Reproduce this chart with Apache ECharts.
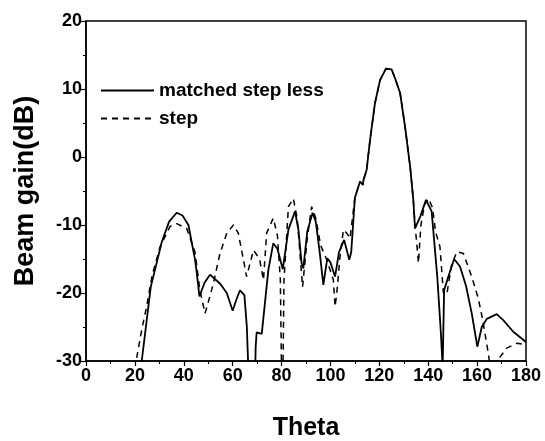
<!DOCTYPE html>
<html>
<head>
<meta charset="utf-8">
<script src="https://cdn.jsdelivr.net/npm/echarts@6/dist/echarts.min.js"></script>
<style>
  html, body { margin: 0; padding: 0; background: #fff; }
  #chart { width: 545px; height: 441px; }
</style>
</head>
<body>
<div id="chart"></div>
<script>
// axis ticks
let xTicks = [0, 20, 40, 60, 80, 100, 120, 140, 160, 180];
let yTicks = [-30, -20, -10, 0, 10, 20];

// series names
let seriesNames = ['matched step less', 'step'];

// matched step less [theta, dB]
let matched = [
  [22, -36], [22.8, -30], [26.5, -19.1], [31, -12.5], [34, -9.5], [37.1, -8.2], [39.5, -8.6],
  [41.9, -10], [44.6, -15.1], [45.3, -17], [46.4, -20.5], [48.5, -18.5], [50.7, -17.3],
  [54.8, -18.6], [57.6, -20], [60, -22.6], [61.5, -21], [63, -19.6], [64.8, -20.3],
  [65.8, -25], [67.3, -40], [68.8, -40], [69.4, -28], [69.8, -25.8], [71.9, -26],
  [74.6, -16.6], [76.6, -12.7], [78.3, -13.5], [80.5, -16.5], [82.8, -10.7], [85.5, -8.0],
  [86.9, -10.7], [88.2, -15.6], [88.9, -16.4], [90.5, -11], [92.7, -8.2], [94, -9.5],
  [95.6, -14], [97.1, -18.8], [98.7, -14.9], [100, -15.5], [101.9, -17.6], [103.5, -14],
  [105.6, -12.2], [107.7, -15.1], [108.5, -14], [110, -6], [112.1, -3.6], [113.3, -4.1],
  [113.5, -3.4], [114.8, -1.9], [116.2, 2.5], [118.2, 7.9], [120.3, 11.3], [122.7, 13],
  [125, 12.9], [126.5, 11.5], [128.5, 9.4], [130.5, 4.5], [132.6, -1.4], [133.9, -6.3],
  [134.6, -10.5], [136.7, -8.8], [139.1, -6.3], [141.4, -8], [143.7, -17.6], [145.2, -26],
  [145.9, -31], [146.5, -19.6], [148.2, -17.6], [150.6, -15], [153, -16.1], [155.5, -19],
  [157.8, -23], [160.1, -27.9], [161.9, -25], [164, -23.8], [168, -23.1], [170.7, -24],
  [174.8, -25.7], [180, -27.2]
];

// step [theta, dB]
let step = [
  [19.5, -36], [20.5, -30], [22.8, -25.4], [24.8, -22], [27, -17.5], [30.3, -13.2],
  [34.4, -10.2], [37.1, -9.8], [41.2, -10.5], [44.6, -14], [46.6, -19.6], [48.7, -23],
  [50.7, -20.5], [52.1, -18.6], [54.8, -14.2], [57.6, -11.2], [60.3, -10], [62.3, -11.2],
  [64.4, -15.1], [65.7, -17.6], [68.5, -13.7], [71, -15], [72.6, -18.1], [73.9, -11.2],
  [76.6, -9], [78.3, -11.5], [79.5, -18], [80.3, -40], [80.6, -40], [81, -18.1],
  [82.8, -7.3], [84.8, -6.1], [86.4, -9], [88.6, -19.1], [90.5, -12], [92.3, -7.3],
  [94, -9], [96, -13], [98.5, -15.1], [101.2, -18.1], [101.9, -22], [102.6, -20],
  [103.9, -14.7], [105.3, -10.7], [106.7, -11.2], [108, -12], [110, -6], [112.1, -3.6],
  [113.3, -4.1], [113.5, -3.4], [114.8, -1.9], [116.2, 2.5], [118.2, 7.9], [120.3, 11.3],
  [122.7, 13], [125, 12.9], [126.5, 11.5], [128.5, 9.4], [130.5, 4.5], [132.6, -1.4],
  [133.9, -6.3], [134.6, -10], [135.3, -12.7], [136, -15.6], [137, -10], [138.5, -7],
  [140.1, -6.1], [141.8, -7.5], [143, -11], [144.8, -13.2], [146.2, -20], [147.6, -20.2],
  [149.5, -16], [151.7, -13.9], [154.4, -14.2], [157.8, -17.6], [160.5, -20.8], [162.3, -24],
  [164.6, -28.9], [166, -33], [168, -33], [169.4, -29.4], [172.1, -28.1], [176.2, -27.4],
  [180, -27.6]
];

let chart = echarts.init(document.getElementById('chart'));
let font = 'Liberation Sans, Arial, sans-serif';

chart.setOption({
  animation: false,
  backgroundColor: '#fff',
  grid: {
    left: 86, right: 19, top: 21, bottom: 80,
    outerBoundsMode: 'none',
    show: true, borderColor: '#000', borderWidth: 1.5
  },
  legend: {
    orient: 'vertical',
    left: 95, top: 76,
    itemWidth: 53, itemHeight: 14, itemGap: 9,
    data: seriesNames,
    itemStyle: { opacity: 0 },
    textStyle: { fontFamily: font, fontWeight: 'bold', fontSize: 19, color: '#000' }
  },
  xAxis: {
    type: 'value',
    min: xTicks[0], max: xTicks[xTicks.length - 1], interval: 20,
    name: 'Theta', nameLocation: 'middle', nameGap: 55,
    nameTextStyle: { fontFamily: font, fontWeight: 'bold', fontSize: 25, color: '#000' },
    axisLine: { show: true, onZero: false, lineStyle: { color: '#000', width: 1.5 } },
    axisTick: { show: true, length: 5, lineStyle: { color: '#000', width: 1.2 } },
    minorTick: { show: true, splitNumber: 2, length: 3, lineStyle: { color: '#000' } },
    splitLine: { show: false },
    axisLabel: { fontFamily: font, fontWeight: 'bold', fontSize: 18, color: '#000', margin: 6 }
  },
  yAxis: {
    type: 'value',
    min: yTicks[0], max: yTicks[yTicks.length - 1], interval: 10,
    name: 'Beam gain(dB)', nameLocation: 'middle', nameGap: 47,
    nameTextStyle: { fontFamily: font, fontWeight: 'bold', fontSize: 27, color: '#000' },
    axisLine: { show: true, onZero: false, lineStyle: { color: '#000', width: 1.5 } },
    axisTick: { show: true, length: 5, lineStyle: { color: '#000', width: 1.2 } },
    minorTick: { show: true, splitNumber: 2, length: 3, lineStyle: { color: '#000' } },
    splitLine: { show: false },
    axisLabel: { fontFamily: font, fontWeight: 'bold', fontSize: 18, color: '#000', margin: 4 }
  },
  series: [
    {
      name: seriesNames[0],
      type: 'line',
      data: matched,
      showSymbol: false,
      symbol: 'none',
      clip: true,
      lineStyle: { color: '#000', width: 1.8 },
      itemStyle: { color: '#000' }
    },
    {
      name: seriesNames[1],
      type: 'line',
      data: step,
      showSymbol: false,
      symbol: 'none',
      clip: true,
      lineStyle: { color: '#000', width: 1.5, type: [6, 5] },
      itemStyle: { color: '#000' }
    }
  ]
});
</script>
</body>
</html>
